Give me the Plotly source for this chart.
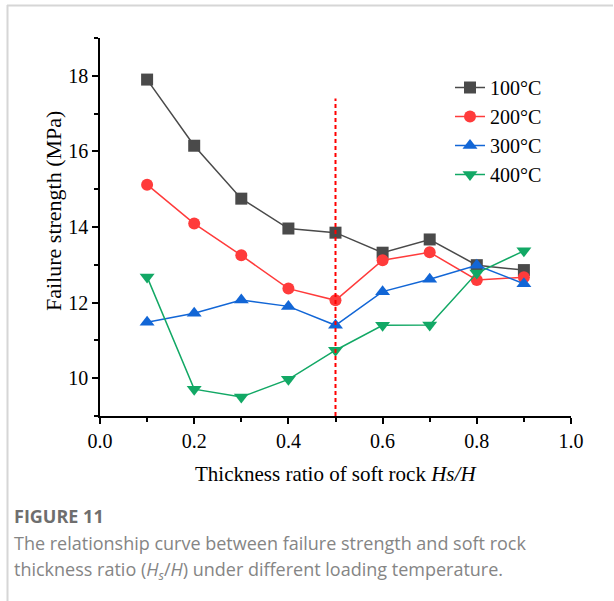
import plotly.graph_objects as go

x_ratio = [0.1, 0.2, 0.3, 0.4, 0.5, 0.6, 0.7, 0.8, 0.9]
s100 = [17.90, 16.15, 14.75, 13.96, 13.85, 13.32, 13.67, 12.99, 12.86]
s200 = [15.12, 14.09, 13.25, 12.37, 12.06, 13.12, 13.33, 12.60, 12.67]
s300 = [11.48, 11.72, 12.07, 11.90, 11.40, 12.29, 12.62, 12.99, 12.50]
s400 = [12.68, 9.71, 9.50, 9.97, 10.74, 11.40, 11.41, 12.78, 13.37]
series_names = ["100°C", "200°C", "300°C", "400°C"]
series_vals = [s100, s200, s300, s400]
colors = ["#4a4a4a", "#ff3b3b", "#1266d6", "#12a865"]
symbols = ["square", "circle", "triangle-up", "triangle-down"]
sizes = [12, 12, 13, 13]
divider_x = 0.5
divider_top = 17.4

serif = "Liberation Serif, Times New Roman, serif"
fig = go.Figure()
for name, vals, c, sym, sz in zip(series_names, series_vals, colors, symbols, sizes):
    fig.add_trace(go.Scatter(
        x=x_ratio, y=vals, name=name, mode="lines+markers",
        line=dict(color=c, width=1.5),
        marker=dict(symbol=sym, size=sz, color=c, line=dict(width=0)),
    ))

fig.add_shape(type="line", xref="x", yref="y", x0=divider_x, x1=divider_x,
              y0=9, y1=divider_top, line=dict(color="#ff0000", width=2, dash="4px,3px"))

# card border (top and left)
PW, PH = 471, 378
fig.add_shape(type="line", xref="paper", yref="paper", x0=-93/PW, x1=513/PW,
              y0=(416-5.5)/PH, y1=(416-5.5)/PH, line=dict(color="#d6d6d6", width=2))
fig.add_shape(type="line", xref="paper", yref="paper", x0=-92.5/PW, x1=-92.5/PW,
              y0=(416-5)/PH, y1=-185/PH, line=dict(color="#d6d6d6", width=2))

axis_common = dict(showline=True, linecolor="black", linewidth=1.5, ticks="outside",
                   ticklen=6, tickwidth=1.5, tickcolor="black", showgrid=False,
                   zeroline=False, tickfont=dict(family=serif, size=20, color="black"))
fig.update_xaxes(range=[0, 1.0], dtick=0.2, tickformat=".1f",
                 minor=dict(ticks="outside", ticklen=4, tickwidth=1.5, tickcolor="black", dtick=0.1),
                 **axis_common)
fig.update_yaxes(range=[9, 19], tickvals=[10, 12, 14, 16, 18],
                 minor=dict(ticks="outside", ticklen=4, tickwidth=1.5, tickcolor="black",
                            tickvals=[9, 11, 13, 15, 17, 19]),
                 **axis_common)

cap_font = dict(family="Open Sans, sans-serif", size=18, color="#858585")
annotations = [
    dict(text="Thickness ratio of soft rock <i>Hs/H</i>", xref="paper", yref="paper",
         x=(336-100)/PW, y=-(474-416)/PH, xanchor="center", yanchor="middle",
         showarrow=False, font=dict(family=serif, size=21, color="black")),
    dict(text="Failure strength (MPa)", xref="paper", yref="paper",
         x=-(100-53)/PW, y=(416-211)/PH, xanchor="center", yanchor="middle", textangle=-90,
         showarrow=False, font=dict(family=serif, size=22, color="black")),
    dict(text="<b>FIGURE 11</b>", xref="paper", yref="paper",
         x=-(100-12)/PW, y=-(516-416)/PH, xanchor="left", yanchor="middle",
         showarrow=False, font=dict(family="Open Sans, sans-serif", size=18, color="#6e6e6e")),
    dict(text="The relationship curve between failure strength and soft rock",
         xref="paper", yref="paper", align="left",
         x=-(100-12)/PW, y=-(543-416)/PH, xanchor="left", yanchor="middle",
         showarrow=False, font=cap_font),
    dict(text="thickness ratio (<i>H<sub>s</sub></i>/<i>H</i>) under different loading temperature.",
         xref="paper", yref="paper", align="left",
         x=-(100-12)/PW, y=-(570-416)/PH, xanchor="left", yanchor="middle",
         showarrow=False, font=cap_font),
]

fig.update_layout(
    width=614, height=601,
    margin=dict(l=100, r=43, t=38, b=185),
    paper_bgcolor="white", plot_bgcolor="white",
    showlegend=True,
    legend=dict(x=(450-100)/PW, y=(416-68)/PH, xanchor="left", yanchor="top",
                bgcolor="rgba(0,0,0,0)", font=dict(family=serif, size=20, color="black"),
                tracegroupgap=0),
    annotations=annotations,
)

fig.write_html("out.html", config={"displayModeBar": False},
               post_script="document.body.style.margin='0';")
